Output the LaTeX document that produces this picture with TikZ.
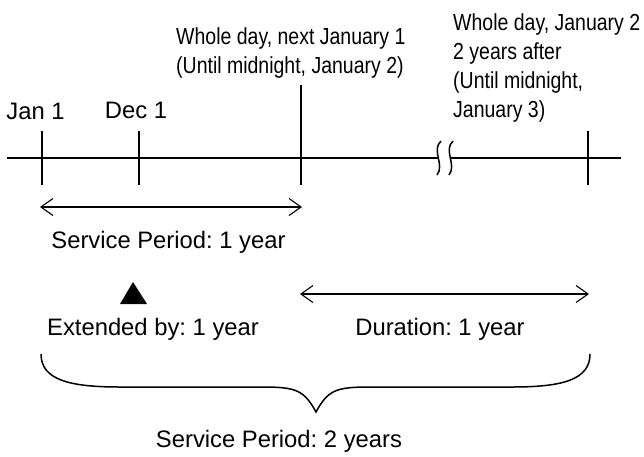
\documentclass[tikz,border=0pt]{standalone}
\usepackage{fontspec}
\setmainfont{Liberation Sans}
\newfontfamily\narrowfont[FakeStretch=0.84]{Liberation Sans}
\usetikzlibrary{arrows.meta}
\frenchspacing
\tikzset{
  lab/.style={inner sep=0pt,font=\frenchspacing\fontsize{23.8}{28}\selectfont,anchor=base},
  nlab/.style={inner sep=0pt,font=\narrowfont\frenchspacing\fontsize{23.2}{29}\selectfont,anchor=base west,align=left},
  axisline/.style={line width=1.5pt,black},
  span/.style={line width=1.1pt,{Straight Barb[length=12pt,width=17pt,line width=1.1pt]}-{Straight Barb[length=12pt,width=17pt,line width=1.1pt]}},
  brace/.style={line width=1.5pt,black}
}
\begin{document}
\begin{tikzpicture}[x=1pt,y=-1pt]
\useasboundingbox (0,0) rectangle (644,456);
\coordinate (a0) at (7,158); \coordinate (a1) at (438,158);
\coordinate (a2) at (451,158); \coordinate (a3) at (621,158);
\draw[axisline] (a0) -- (a1);
\draw[axisline] (a2) -- (a3);
\draw[axisline] (42,131) -- (42,185);
\draw[axisline] (138.9,131) -- (138.9,185);
\draw[axisline] (301,85) -- (301,185);
\draw[axisline] (588,131) -- (588,185);
\draw[axisline] (441,141) .. controls (431,150) and (445,165) .. (437,175);
\draw[axisline] (453,141) .. controls (443,150) and (457,165) .. (449,175);
\coordinate (s1a) at (40,207); \coordinate (s1b) at (302,207);
\coordinate (s2a) at (300,294); \coordinate (s2b) at (589,294);
\draw[span] (s1a) -- (s1b);
\draw[span] (s2a) -- (s2b);
\fill[black] (133,282) -- (120,304) -- (147,304) -- cycle;
\node[lab] (jan) at (35.5,119.5) {Jan 1};
\node[lab] (dec) at (136,118.5) {Dec 1};
\node[lab] (sp1) at (168.5,248) {Service Period: 1 year};
\node[lab] (ext) at (153,335) {Extended by: 1 year};
\node[lab] (dur) at (440,335) {Duration: 1 year};
\node[lab] (sp2) at (279,447) {Service Period: 2 years};
\node[nlab] (n1) at (176,73) {Whole day, next January 1\\(Until midnight, January 2)};
\node[nlab] (n2) at (453,117) {Whole day, January 2\\2 years after\\(Until midnight,\\January 3)};
\draw[brace] (41,354) .. controls (41,380) and (70,387) .. (120,387)
  -- (262,387) .. controls (296,387) and (304,390) .. (316,412)
  .. controls (328,390) and (336,387) .. (370,387)
  -- (512,387) .. controls (562,387) and (590,380) .. (590,354);
\end{tikzpicture}
\end{document}
